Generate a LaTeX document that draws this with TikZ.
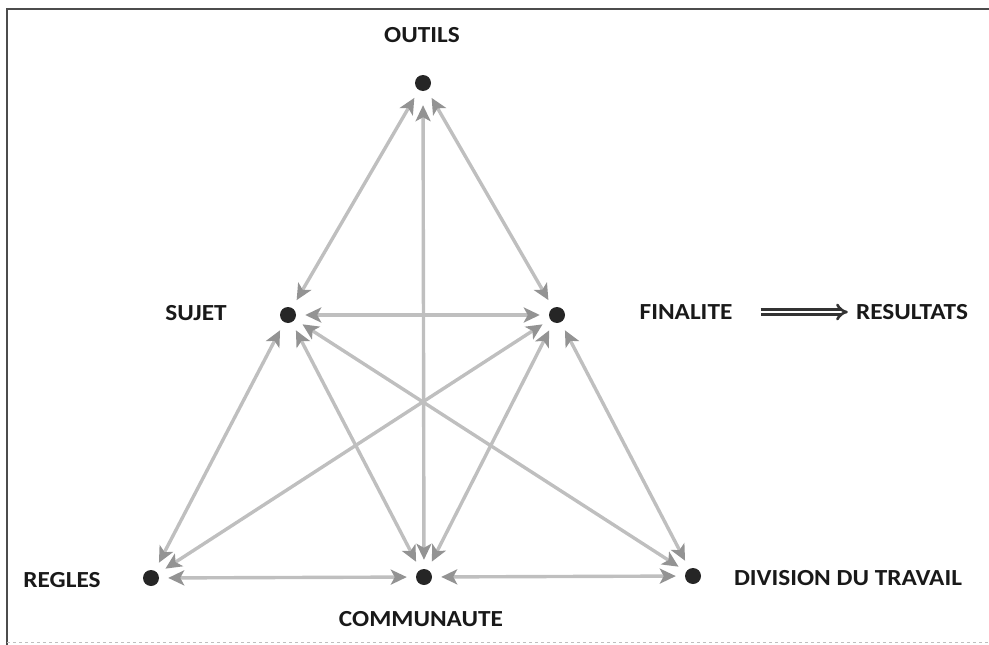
\documentclass[tikz,border=0pt]{standalone}
\usepackage{fontspec}
\setmainfont{Carlito}
\newfontfamily\lblfont[FakeStretch=1.1]{Carlito}
\usetikzlibrary{arrows.meta}
\begin{document}
\begin{tikzpicture}[x=1pt,y=-1pt,
  dot/.style={circle,fill=black!85,inner sep=0pt,minimum size=16pt},
  lbl/.style={font=\lblfont\fontsize{23}{27}\selectfont\bfseries,text=black!90,inner sep=0pt},
  link/.style={draw=gray!50,line width=3.4pt,{Stealth[length=16pt,width=15pt,inset=4pt,color=gray!85]}-{Stealth[length=16pt,width=15pt,inset=4pt,color=gray!85]},shorten >=9pt,shorten <=9pt}]
\useasboundingbox (0,0) rectangle (989,645);
% frame
\draw[black!70,line width=1.5pt] (7,645) -- (7,9) -- (989,9);
\draw[black!25,line width=1pt,dashed] (7,642) -- (989,642);
% dots
\node[dot] (out) at (423,83) {};
\node[dot] (suj) at (288,315) {};
\node[dot] (fin) at (557,315) {};
\node[dot] (reg) at (151,578) {};
\node[dot] (com) at (424,577) {};
\node[dot] (div) at (693,576) {};
% labels
\node[lbl] (outl) at (422,35) {OUTILS};
\node[lbl] (sujl) at (196,313) {SUJET};
\node[lbl] (finl) at (686,312) {FINALITE};
\node[lbl] (resl) at (912,312) {RESULTATS};
\node[lbl] (regl) at (62,580) {REGLES};
\node[lbl] (coml) at (421,619) {COMMUNAUTE};
\node[lbl] (divl) at (848,578) {DIVISION DU TRAVAIL};
% connectors
\draw[link] (out) -- (suj);
\draw[link] (out) -- (fin);
\draw[link,shorten <=14pt] (out) -- (com);
\draw[link] (suj) -- (fin);
\draw[link] (suj) -- (reg);
\draw[link] (suj) -- (com);
\draw[link] (suj) -- (div);
\draw[link] (fin) -- (reg);
\draw[link] (fin) -- (com);
\draw[link] (fin) -- (div);
\draw[link] (reg) -- (com);
\draw[link] (com) -- (div);
% result arrow
\draw[black!80,line width=2.6pt,double=white,double distance=2.8pt,-{Implies},shorten <=28pt,shorten >=8pt] (finl.east) -- (resl.west);
\end{tikzpicture}
\end{document}
